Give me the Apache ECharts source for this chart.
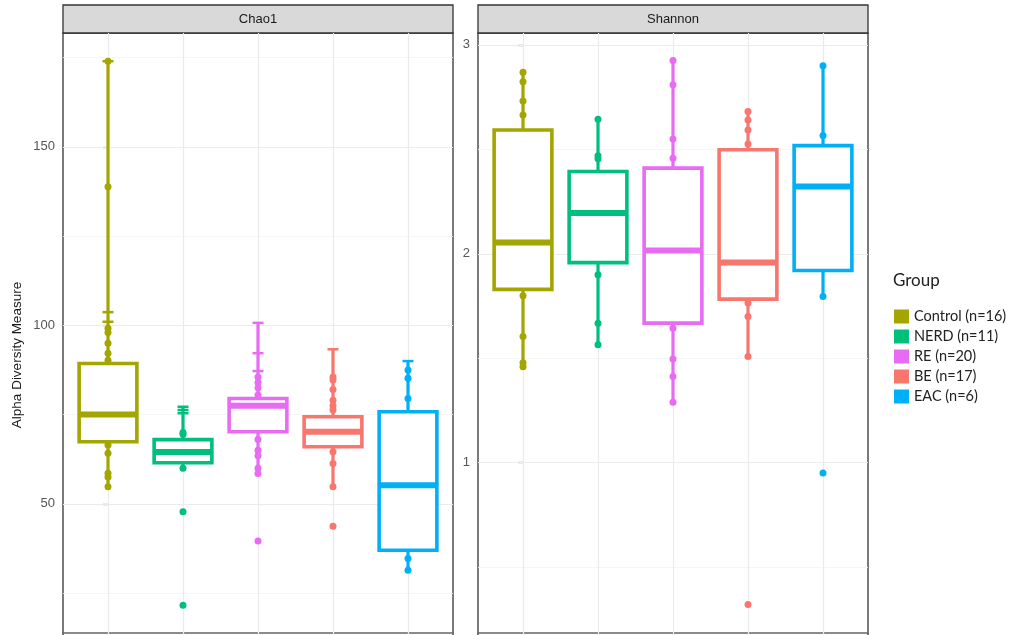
<!DOCTYPE html>
<html>
<head>
<meta charset="utf-8">
<script src="https://cdn.jsdelivr.net/npm/echarts@6/dist/echarts.min.js"></script>
<style>
html, body { margin: 0; padding: 0; background: #fff; }
#main { width: 1014px; height: 635px; }
</style>
</head>
<body>
<div id="main"></div>
<script>
var groups = ['Control (n=16)', 'NERD (n=11)', 'RE (n=20)', 'BE (n=17)', 'EAC (n=6)'];
var colors = ['#A3A500', '#00BF7D', '#E76BF3', '#F8766D', '#00B0F6'];
var groupIndex = [0, 1, 2, 3, 4];

// box: [low, Q1, median, Q3, high]
var chao1Box = [
    [55, 67.4, 75, 89.3, 174],
    [60, 61.5, 64.5, 68, 77.2],
    [58.5, 70.2, 77.5, 79.5, 100.7],
    [54.8, 66, 70.2, 74.4, 93.3],
    [31.4, 37, 55.2, 75.8, 90]
];
var chao1Points = [
    [174, 138.8, 99.2, 98, 95, 92.2, 90.2, 66.5, 64.2, 58.6, 57.5, 54.8],
    [70, 69.5, 60, 47.8, 21.6],
    [85.5, 84, 82.5, 80.5, 68, 65, 63.5, 60, 58.5, 39.6],
    [85.5, 84.7, 82, 79, 77.5, 76.3, 64.6, 61.3, 54.8, 43.7],
    [87.5, 85.2, 79.5, 34.7, 31.4]
];
var chao1Caps = [
    [174, 103.7, 101],
    [77.2, 76.3, 75.4],
    [100.7, 92.2, 87.2],
    [93.3],
    [90]
];
var shannonBox = [
    [1.46, 1.83, 2.054, 2.593, 2.869],
    [1.565, 1.958, 2.195, 2.394, 2.644],
    [1.289, 1.668, 2.016, 2.41, 2.925],
    [1.509, 1.783, 1.958, 2.498, 2.681],
    [1.796, 1.92, 2.322, 2.518, 2.9]
];
var shannonPoints = [
    [2.869, 2.824, 2.732, 2.665, 1.799, 1.604, 1.478, 1.46],
    [2.644, 2.47, 2.455, 1.9, 1.668, 1.565],
    [2.925, 2.809, 2.55, 2.458, 1.644, 1.496, 1.413, 1.289],
    [2.681, 2.641, 2.593, 2.526, 1.764, 1.7, 1.509, 0.321],
    [2.9, 2.566, 1.796, 0.951]
];
var chao1Ticks = [50, 100, 150];
var chao1Minor = [25, 75, 125, 175];
var shannonTicks = [1, 2, 3];
var shannonMinor = [0.5, 1.5, 2.5];

var chart = echarts.init(document.getElementById('main'));

function renderBox(params, api) {
    var x = api.value(0);
    var low = api.coord([x, api.value(1)]);
    var q1 = api.coord([x, api.value(2)]);
    var med = api.coord([x, api.value(3)]);
    var q3 = api.coord([x, api.value(4)]);
    var high = api.coord([x, api.value(5)]);
    var half = api.size([0.77, 0])[0] / 2;
    var color = colors[x];
    var cx = low[0];
    return {
        type: 'group',
        children: [
            { type: 'rect', shape: { x: cx - 1.6, y: high[1], width: 3.2, height: q3[1] - high[1] },
              style: { fill: color } },
            { type: 'rect', shape: { x: cx - 1.6, y: q1[1], width: 3.2, height: low[1] - q1[1] },
              style: { fill: color } },
            { type: 'rect', shape: { x: cx - half, y: q3[1], width: half * 2, height: q1[1] - q3[1] },
              style: { fill: '#fff', stroke: color, lineWidth: 3.6 } },
            { type: 'rect', shape: { x: cx - half, y: med[1] - 3, width: half * 2, height: 6 },
              style: { fill: color } }
        ]
    };
}

function gridLines(ticks, minor) {
    var d = [];
    ticks.forEach(function (v) { d.push({ yAxis: v, lineStyle: { color: '#EBEBEB', width: 1.2 } }); });
    minor.forEach(function (v) { d.push({ yAxis: v, lineStyle: { color: '#F2F2F2', width: 0.8 } }); });
    groupIndex.forEach(function (i) { d.push({ xAxis: i, lineStyle: { color: '#EBEBEB', width: 1.2 } }); });
    return d;
}

var series = [];
[0, 1].forEach(function (p) {
    var box = p === 0 ? chao1Box : shannonBox;
    var pts = p === 0 ? chao1Points : shannonPoints;
    series.push({
        name: 'grid' + p,
        type: 'line',
        xAxisIndex: p,
        yAxisIndex: p,
        data: [],
        z: 1,
        markLine: {
            z: 1,
            silent: true,
            symbol: ['none', 'none'],
            label: { show: false },
            emphasis: { disabled: true },
            lineStyle: { type: 'solid' },
            data: p === 0 ? gridLines(chao1Ticks, chao1Minor) : gridLines(shannonTicks, shannonMinor)
        }
    });
    groups.forEach(function (g, i) {
        series.push({
            name: g,
            type: 'custom',
            xAxisIndex: p,
            yAxisIndex: p,
            z: 3,
            itemStyle: { color: colors[i] },
            renderItem: renderBox,
            data: [[i].concat(box[i])]
        });
        series.push({
            name: g,
            type: 'scatter',
            xAxisIndex: p,
            yAxisIndex: p,
            z: 4,
            symbolSize: 7,
            itemStyle: { color: colors[i], opacity: 1 },
            data: pts[i].map(function (v) { return [i, v]; })
        });
        if (p === 0) {
            series.push({
                name: g,
                type: 'scatter',
                xAxisIndex: p,
                yAxisIndex: p,
                z: 4,
                symbol: 'rect',
                symbolSize: [11, 2.5],
                itemStyle: { color: colors[i], opacity: 1 },
                data: chao1Caps[i].map(function (v) { return [i, v]; })
            });
        }
    });
});

function yAxisFor(idx, min, max, ticks) {
    return {
        type: 'value',
        gridIndex: idx,
        min: min,
        max: max,
        splitNumber: 3,
        axisLine: { show: false },
        axisTick: { show: true, length: 5, customValues: ticks, lineStyle: { color: '#333', width: 1.2 } },
        axisLabel: { customValues: ticks, margin: 8, color: '#555', fontSize: 13, fontFamily: 'Liberation Sans' },
        splitLine: { show: false }
    };
}

function xAxisFor(idx) {
    return {
        type: 'value',
        gridIndex: idx,
        min: -0.6,
        max: 4.6,
        offset: -5,
        axisLine: { show: true, lineStyle: { color: '#666', width: 1.5 } },
        axisTick: { show: true, length: 3, customValues: groupIndex, lineStyle: { color: '#333' } },
        axisLabel: { show: false },
        splitLine: { show: false }
    };
}

option = {
    animation: false,
    backgroundColor: '#fff',
    title: {
        text: 'Group',
        left: 893,
        top: 272,
        padding: 0,
        textStyle: { fontFamily: 'Lato', fontSize: 17, fontWeight: 'normal', color: '#222' }
    },
    legend: {
        orient: 'vertical',
        left: 894,
        top: 309,
        padding: 0,
        icon: 'rect',
        itemWidth: 15,
        itemHeight: 14,
        itemGap: 5,
        selectedMode: false,
        textStyle: { fontFamily: 'Lato', fontSize: 14.5, color: '#222' },
        data: groups.map(function (g, i) { return { name: g, itemStyle: { color: colors[i] } }; })
    },
    grid: [
        { left: 63, top: 33, width: 390, height: 605, outerBoundsMode: 'none', containLabel: false,
          show: true, borderColor: '#333', borderWidth: 1.3, backgroundColor: 'transparent' },
        { left: 478, top: 33, width: 390, height: 605, outerBoundsMode: 'none', containLabel: false,
          show: true, borderColor: '#333', borderWidth: 1.3, backgroundColor: 'transparent' }
    ],
    xAxis: [xAxisFor(0), xAxisFor(1)],
    yAxis: [yAxisFor(0, 12.42, 181.9, chao1Ticks), yAxisFor(1, 0.161, 3.057, shannonTicks)],
    graphic: [
        { type: 'rect', shape: { x: 63, y: 5, width: 390, height: 28 }, style: { fill: '#D9D9D9', stroke: '#333', lineWidth: 1.3 } },
        { type: 'text', x: 258, y: 19, style: { text: 'Chao1', fontFamily: 'Liberation Sans', fontSize: 13, fill: '#1A1A1A', textAlign: 'center', textVerticalAlign: 'middle' } },
        { type: 'rect', shape: { x: 478, y: 5, width: 390, height: 28 }, style: { fill: '#D9D9D9', stroke: '#333', lineWidth: 1.3 } },
        { type: 'text', x: 673, y: 19, style: { text: 'Shannon', fontFamily: 'Liberation Sans', fontSize: 13, fill: '#1A1A1A', textAlign: 'center', textVerticalAlign: 'middle' } },
        { type: 'text', x: 17, y: 355, rotation: Math.PI / 2, style: { text: 'Alpha Diversity Measure', fontFamily: 'Liberation Sans', fontSize: 13.5, fill: '#1A1A1A', textAlign: 'center', textVerticalAlign: 'middle' } }
    ],
    series: series
};

chart.setOption(option);

window.addEventListener('resize', function () {
    chart.resize();
});
</script>
</body>
</html>
